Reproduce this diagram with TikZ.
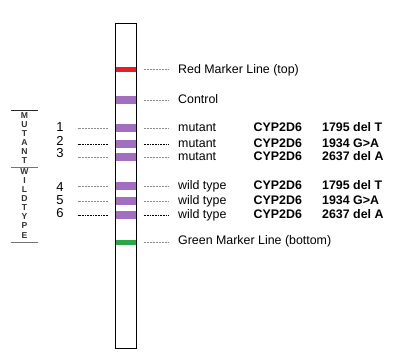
\documentclass[tikz,border=0pt]{standalone}
\usepackage{fontspec}
\setmainfont{Liberation Sans}
\definecolor{bandpurple}{RGB}{162,110,192}
\definecolor{bandred}{RGB}{228,30,38}
\definecolor{bandgreen}{RGB}{38,168,72}
\tikzset{
  band/.style={rectangle, inner sep=0, minimum width=21pt, minimum height=7.7pt, fill=bandpurple, draw=none},
  strip/.style={rectangle, inner sep=0, draw=black, line width=1.2pt, minimum width=21pt, minimum height=325pt},
  lab/.style={anchor=base west, inner sep=0, font=\fontsize{12.4}{14}\selectfont},
  blab/.style={lab, font=\fontsize{12.4}{14}\selectfont\bfseries},
  num/.style={anchor=base, inner sep=0, font=\fontsize{13}{15}\selectfont},
  letter/.style={inner sep=0, font=\fontsize{8.6}{9}\selectfont\bfseries, text=black!80},
  dotg/.style={draw=black!45, line width=0.7pt, dash pattern=on 0.7pt off 0.8pt},
  dotk/.style={draw=black, line width=0.8pt, dash pattern=on 0.8pt off 0.8pt},
}
\begin{document}
\begin{tikzpicture}[x=1pt,y=-1pt]
\useasboundingbox (0,0) rectangle (414,359);
\fill[white] (0,0) rectangle (414,359);
% bands
\node[band, fill=bandred, minimum height=4.5pt] (br) at (125.8,69.5) {};
\node[band] (bc) at (125.8,100) {};
\node[band] (b1) at (125.8,128) {};
\node[band] (b2) at (125.8,144) {};
\node[band] (b3) at (125.8,157) {};
\node[band] (b4) at (125.8,186) {};
\node[band] (b5) at (125.8,201) {};
\node[band] (b6) at (125.8,215) {};
\node[band, fill=bandgreen, minimum height=5pt] (bg) at (125.8,242.2) {};
% strip
\node[strip] (s) at (125.8,185.8) {};
% right labels
\node[lab] (lr) at (178,73) {Red Marker Line (top)};
\node[lab] (lc) at (178,103.5) {Control};
\node[lab] (l1) at (178,131) {mutant};
\node[lab] (l2) at (178,147) {mutant};
\node[lab] (l3) at (178,160) {mutant};
\node[lab] (l4) at (178,189) {wild type};
\node[lab] (l5) at (178,204) {wild type};
\node[lab] (l6) at (178,218) {wild type};
\node[lab] (lg) at (178,244) {Green Marker Line (bottom)};
\foreach \i/\y/\m in {1/131/1795 del T,2/147/1934 G>A,3/160/2637 del A,4/189/1795 del T,5/204/1934 G>A,6/218/2637 del A}{
  \node[blab] (g\i) at (253.5,\y) {CYP2D6};
  \node[blab] (m\i) at (322,\y) {\m};
}
% right connectors
\foreach \b/\l/\s in {br/lr/dotg,bc/lc/dotg,b1/l1/dotg,b2/l2/dotk,b3/l3/dotg,b4/l4/dotg,b5/l5/dotg,b6/l6/dotk,bg/lg/dotg}{
  \draw[\s, shorten <=7pt, shorten >=10pt] (\b.east) -- (\b.east -| \l.west);
}
% numbers
\node[num] (n1) at (60,131.7) {1};
\node[num] (n2) at (60,145) {2};
\node[num] (n3) at (60,157.3) {3};
\node[num] (n4) at (60,191) {4};
\node[num] (n5) at (60,204.3) {5};
\node[num] (n6) at (60,217) {6};
% left connectors
\foreach \b/\s in {b1/dotg,b2/dotk,b3/dotg,b4/dotg,b5/dotg,b6/dotk}{
  \draw[\s] (\b.west) ++(-7,0) -- ++(-30.5,0);
}
% left group labels
\coordinate (t0) at (11,110.7);
\coordinate (t1) at (38,110.7);
\coordinate (m0) at (11,167);
\coordinate (m1) at (38,167);
\coordinate (e0) at (11,242.3);
\coordinate (e1) at (38,242.3);
\draw[black!85, line width=1pt] (t0) -- (t1);
\draw[black!55, line width=0.9pt] (m0) -- (m1);
\draw[black!55, line width=0.9pt] (e0) -- (e1);
\foreach \c [count=\k from 0] in {M,U,T,A,N,T}{
  \node[letter] (mu\k) at (24.5,116+9*\k) {\c};
}
\foreach \c [count=\k from 0] in {W,I,L,D,T,Y,P,E}{
  \node[letter] (wt\k) at (24.5,171.7+9.05*\k) {\c};
}
\end{tikzpicture}
\end{document}
